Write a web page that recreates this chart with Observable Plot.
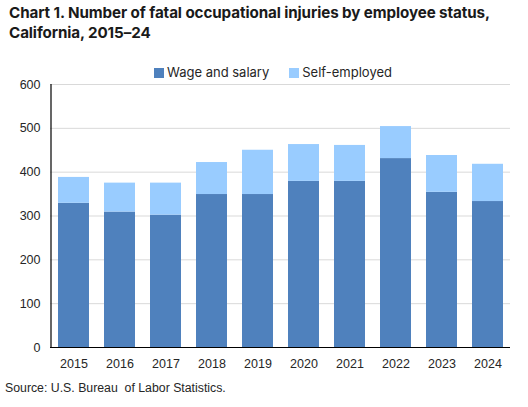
<!DOCTYPE html>
<html lang="en">
<head>
    <meta charset="UTF-8">
    <title>Fatal occupational injuries, California</title>
    <style>
        body {
            margin: 0;
            background: #fff;
            width: 528px;
            height: 407px;
            position: relative;
            overflow: hidden;
        }
        #title {
            position: absolute;
            left: 9px;
            top: 3px;
            font-family: Inter, "Noto Sans", sans-serif;
            font-weight: 700;
            font-size: 15.2px;
            line-height: 20px;
            color: #1a1a1a;
            letter-spacing: -0.1px;
        }
        #legend {
            position: absolute;
            z-index: 2;
            top: 64px;
            left: 0;
            width: 528px;
            display: flex;
            justify-content: center;
            gap: 20px;
            font-family: Inter, "Noto Sans", sans-serif;
            font-size: 13px;
            color: #262626;
            padding-left: 18px;
            box-sizing: border-box;
        }
        #legend span.sw {
            display: inline-block;
            width: 10px;
            height: 10px;
            margin-right: 3px;
            vertical-align: -1px;
        }
        #chart {
            position: absolute;
            z-index: 1;
            top: 76px;
            left: 0;
        }
        #source {
            position: absolute;
            left: 5px;
            top: 381px;
            font-family: "Liberation Sans", Arial, sans-serif;
            font-size: 12.3px;
            color: #262626;
        }
    </style>
    <script src="https://cdn.jsdelivr.net/npm/d3@7"></script>
    <script src="https://cdn.jsdelivr.net/npm/@observablehq/plot@0.6"></script>
</head>
<body>
    <div id="title">Chart 1. Number of fatal occupational injuries by employee status,<br>California, 2015–24</div>
    <div id="legend"></div>
    <div id="chart"></div>
    <div id="source">Source: U.S. Bureau&nbsp; of Labor Statistics.</div>

    <script>
        // Values
        const years = ["2015", "2016", "2017", "2018", "2019", "2020", "2021", "2022", "2023", "2024"];
        const wageSalary = [329, 309, 302, 349, 349, 379, 379, 431, 354, 333];
        const selfEmployed = [59, 66, 73, 73, 101, 84, 82, 73, 84, 85];
        const seriesNames = ["Wage and salary", "Self-employed"];
        const seriesColors = ["#4f81bd", "#99ccff"];
        const yTicks = [0, 100, 200, 300, 400, 500, 600];

        // long table for stacking
        const rows = [];
        years.forEach((y, i) => {
            rows.push({year: y, status: seriesNames[0], value: wageSalary[i]});
            rows.push({year: y, status: seriesNames[1], value: selfEmployed[i]});
        });

        // legend
        const legend = document.getElementById("legend");
        seriesNames.forEach((name, i) => {
            const item = document.createElement("div");
            item.innerHTML = `<span class="sw" style="background:${seriesColors[i]}"></span>${name}`;
            legend.appendChild(item);
        });

        const plot = Plot.plot({
            width: 528,
            height: 299,
            marginTop: 8,
            marginBottom: 28,
            marginLeft: 50,
            marginRight: 18,
            style: {
                fontFamily: "'Liberation Sans', Arial, sans-serif",
                fontSize: "12px",
                color: "#262626",
                background: "transparent"
            },
            // excel-style gaps: half the inner gap at each end
            x: {domain: years, paddingInner: 0.33, paddingOuter: 0.165, label: null},
            y: {domain: [0, 600], label: null},
            color: {domain: seriesNames, range: seriesColors},
            marks: [
                Plot.gridY(yTicks, {stroke: "#d9d9d9", strokeOpacity: 1, strokeWidth: 1}),
                Plot.barY(rows, Plot.stackY({
                    x: "year",
                    y: "value",
                    fill: "status",
                    order: seriesNames
                })),
                Plot.axisY(yTicks, {tickSize: 0, tickPadding: 10, fontSize: 12.5}),
                Plot.axisX({tickSize: 0, tickPadding: 12, fontSize: 12.5}),
                Plot.ruleY([0], {stroke: "#000", strokeWidth: 1.2}),
                Plot.ruleX([years[0]], {dx: -23, y1: 0, y2: 600, stroke: "#000", strokeWidth: 1.2})
            ]
        });

        document.getElementById("chart").appendChild(plot);
    </script>
</body>
</html>
